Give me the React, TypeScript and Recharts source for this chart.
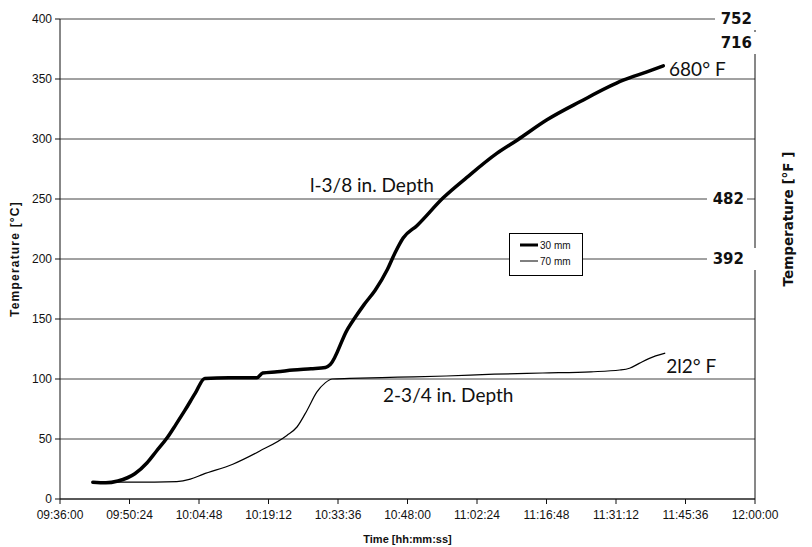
import React from 'react';
import { LineChart, Line, XAxis, YAxis, CartesianGrid, Legend, ReferenceDot } from 'recharts';

// ---- Data (time of day, temperature °C) ----
const times30 = [
  '09:42:48', '09:45:30', '09:48:00', '09:51:30', '09:54:00', '09:56:00', '09:58:12', '10:00:00',
  '10:01:54', '10:04:00', '10:06:00', '10:11:00', '10:16:48', '10:18:00', '10:21:00', '10:24:18',
  '10:28:00', '10:31:00', '10:32:00', '10:35:30', '10:37:06', '10:39:00', '10:41:18', '10:43:48',
  '10:45:24', '10:47:06', '10:50:00', '10:55:24', '11:00:18', '11:06:30', '11:10:42', '11:16:54',
  '11:23:42', '11:32:42', '11:37:36', '11:41:00',
];
const temps30 = [
  14, 13.5, 15, 21, 30, 40, 51, 62,
  74, 88, 100.5, 101, 101, 105, 106, 107.5,
  108.5, 109.5, 112, 141, 151, 162, 174, 191,
  205, 217.5, 228, 251, 268, 288, 299, 316,
  331, 349, 356, 361,
];

const times70 = [
  '09:42:48', '09:51:00', '10:00:12', '10:03:00', '10:05:36', '10:11:48', '10:17:24', '10:23:00',
  '10:25:06', '10:27:12', '10:29:12', '10:31:00', '10:32:24', '10:36:00', '10:46:00', '10:56:00',
  '11:06:00', '11:16:00', '11:26:00', '11:32:00', '11:34:00', '11:36:00', '11:38:00', '11:41:24',
];
const temps70 = [
  14, 14, 14.5, 16.5, 20.5, 29, 40, 53,
  60, 74, 89, 97, 100, 100.5, 101.5, 102.5,
  104, 105, 106, 107.5, 109, 113, 117, 121.5,
];

const xTickLabels = [
  '09:36:00', '09:50:24', '10:04:48', '10:19:12', '10:33:36', '10:48:00',
  '11:02:24', '11:16:48', '11:31:12', '11:45:36', '12:00:00',
];
const yTicksC = [0, 50, 100, 150, 200, 250, 300, 350, 400];
const fTicksC = [200, 250, 380, 400];
const fTickLabels = ['392', '482', '716', '752'];

const seriesNames = ['30 mm', '70 mm'];

// annotations: [time, °C, text]
const annoTimes = ['10:27:48', '10:42:56', '11:42:12', '11:41:36'];
const annoTemps = [256, 81, 352.5, 105];
const annoTexts = ['l-3/8 in. Depth', '2-3/4 in. Depth', '680° F', '2l2° F'];

// ---- helpers ----
const toSec = (s: string) => {
  const [h, m, sec] = s.split(':').map(Number);
  return h * 3600 + m * 60 + sec;
};
const fmt = (v: number) => {
  const h = Math.floor(v / 3600);
  const m = Math.floor((v % 3600) / 60);
  const s = Math.round(v % 60);
  const p = (n: number) => String(n).padStart(2, '0');
  return `${p(h)}:${p(m)}:${p(s)}`;
};

const data30 = times30.map((t, i) => ({ t: toSec(t), v: temps30[i] }));
const data70 = times70.map((t, i) => ({ t: toSec(t), v: temps70[i] }));
const xTicks = xTickLabels.map(toSec);

const ARIAL = '"Liberation Sans", Arial, sans-serif';
const DEJAVU = '"DejaVu Sans", Verdana, sans-serif';
const GILL = 'Lato, "Open Sans", sans-serif';

const RightTick = (props: any) => {
  const { x, y, payload } = props;
  const idx = fTicksC.indexOf(payload.value);
  const label = idx >= 0 ? fTickLabels[idx] : '';
  const inset = payload.value >= 300 ? 3 : 11;
  const end = x - inset;
  return (
    <g>
      <rect x={end - 37} y={y - 11} width={payload.value === 250 ? 40 : inset + 40} height={22} fill="#fff" />
      <text x={end} y={y} textAnchor="end" dominantBaseline="central"
        style={{ fontFamily: DEJAVU, fontWeight: 'bold', fontSize: 15, fill: '#111' }}>
        {label}
      </text>
    </g>
  );
};

const LeftLabel = (props: any) => {
  const { x, y, height } = props.viewBox;
  const cx = x + 15;
  const cy = y + height / 2;
  return (
    <text x={cx} y={cy} transform={`rotate(-90 ${cx} ${cy})`} textAnchor="middle" dominantBaseline="central"
      style={{ fontFamily: ARIAL, fontWeight: 'bold', fontSize: 12, letterSpacing: 1.2, fill: '#111' }}>
      Temperature [°C]
    </text>
  );
};

const RightLabel = (props: any) => {
  const { x, y, height } = props.viewBox;
  const cx = x + 33;
  const cy = y + height / 2 - 40;
  return (
    <text x={cx} y={cy} transform={`rotate(-90 ${cx} ${cy})`} textAnchor="middle" dominantBaseline="central"
      style={{ fontFamily: DEJAVU, fontWeight: 'bold', fontSize: 13.5, fill: '#111' }}>
      Temperature  [°F ]
    </text>
  );
};

const annoLabel = (text: string) => (props: any) => {
  const { x, y, width, height } = props.viewBox;
  const cx = x + (width || 0) / 2;
  const cy = y + (height || 0) / 2;
  return (
    <text x={cx} y={cy} textAnchor="start"
      style={{ fontFamily: GILL, fontSize: 19, fill: '#111' }}>
      {text}
    </text>
  );
};

const LegendBox = (props: any) => {
  const payload = (props.payload || []).filter((p: any) => p.type !== 'none');
  return (
    <div style={{ border: '1px solid #000', background: '#fff', width: 72, height: 38, boxSizing: 'content-box',
      fontFamily: ARIAL, fontSize: 10, color: '#111', paddingTop: 3 }}>
      {payload.map((p: any, i: number) => (
        <div key={i} style={{ display: 'flex', alignItems: 'center', height: 16, paddingLeft: 10 }}>
          <svg width={18} height={6} style={{ display: 'block' }}>
            <line x1={0} y1={3} x2={18} y2={3} stroke="#000" strokeWidth={i === 0 ? 3 : 1} />
          </svg>
          <span style={{ marginLeft: 2 }}>{p.value}</span>
        </div>
      ))}
    </div>
  );
};

export default function App() {
  return (
    <div style={{ position: 'absolute', left: 0, top: 0, background: '#fff' }}>
      <LineChart width={812} height={547} margin={{ top: 19, right: 0, bottom: 0, left: 0 }}>
        <CartesianGrid vertical={false} stroke="#444" strokeWidth={1} />
        <XAxis
          dataKey="t"
          type="number"
          domain={[xTicks[0], xTicks[xTicks.length - 1]]}
          ticks={xTicks}
          tickFormatter={fmt}
          allowDataOverflow
          height={48}
          stroke="#111"
          tickSize={5}
          tickMargin={6}
          tick={{ fontFamily: ARIAL, fontSize: 12, fill: '#111' }}
          label={{ value: 'Time [hh:mm:ss]', position: 'insideBottom', offset: 4,
            style: { fontFamily: ARIAL, fontWeight: 'bold', fontSize: 11, fill: '#111' } }}
        />
        <YAxis
          type="number"
          domain={[0, 400]}
          ticks={yTicksC}
          width={60}
          stroke="#111"
          tickSize={5}
          tickMargin={3}
          tick={{ fontFamily: ARIAL, fontSize: 12, fill: '#111' }}
          label={{ content: LeftLabel }}
        />
        <YAxis
          yAxisId="right"
          orientation="right"
          type="number"
          domain={[0, 400]}
          allowDataOverflow
          ticks={fTicksC}
          width={57}
          stroke="#111"
          axisLine={{ stroke: '#111' }}
          tickLine={false}
          tickSize={0}
          tickMargin={0}
          tick={<RightTick />}
          label={{ content: RightLabel }}
        />
        <Legend
          layout="horizontal"
          align="center"
          verticalAlign="middle"
          content={<LegendBox />}
          wrapperStyle={{ position: 'absolute', left: 509, top: 233, width: 74, height: 40 }}
        />
        <Line yAxisId="right" data={data30} dataKey="v" name="°F" type="linear" stroke="none"
          legendType="none" dot={false} activeDot={false} isAnimationActive={false} />
        <Line data={data30} dataKey="v" name={seriesNames[0]} type="monotone" stroke="#000" strokeWidth={3.5}
          strokeLinejoin="round" strokeLinecap="round" dot={false} isAnimationActive={false} />
        <Line data={data70} dataKey="v" name={seriesNames[1]} type="monotone" stroke="#000" strokeWidth={1.2}
          dot={false} isAnimationActive={false} />
        {annoTexts.map((txt, i) => (
          <ReferenceDot key={i} x={toSec(annoTimes[i])} y={annoTemps[i]} r={0} fill="none" stroke="none"
            label={{ content: annoLabel(txt) }} />
        ))}
      </LineChart>
    </div>
  );
}
